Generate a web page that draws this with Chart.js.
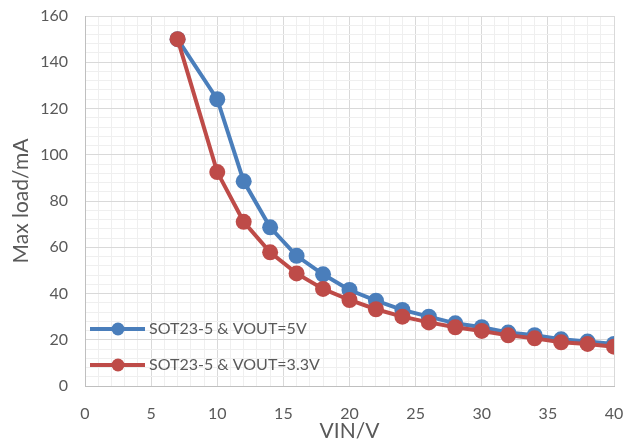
<!DOCTYPE html>
<html>
<head>
<meta charset="utf-8">
<script src="https://cdn.jsdelivr.net/npm/chart.js@4"></script>
<style>
  body { margin: 0; background: #fff; }
  #wrap { width: 628px; height: 445px; position: relative; }
</style>
</head>
<body>
<div id="wrap"><canvas id="myChart"></canvas></div>
<script>
// VIN/V values on the x axis
const vin = [7, 10, 12, 14, 16, 18, 20, 22, 24, 26, 28, 30, 32, 34, 36, 38, 40];
// max load in mA
const load5v = [150, 124, 88.5, 68.6, 56.3, 48.3, 41.5, 36.9, 32.9, 30, 27.1, 25.4, 23.1, 22, 20.2, 19.2, 18.2];
const load33v = [150, 92.5, 71, 57.8, 48.7, 42, 37.2, 33.2, 30, 27.5, 25.4, 23.8, 21.9, 20.6, 18.9, 18.2, 17];
const seriesNames = ['SOT23-5 & VOUT=5V', 'SOT23-5 & VOUT=3.3V'];

const blue = '#4a7ebb';
const red = '#be4b48';
const textColor = '#595959';
const fontName = 'Lato, "Liberation Sans", sans-serif';

function toPoints(ys) {
  return vin.map((x, i) => ({ x: x, y: ys[i] }));
}

// legend drawn inside the plot, lower left, like the excel one
const innerLegend = {
  id: 'innerLegend',
  afterDatasetsDraw(chart) {
    const ctx = chart.ctx;
    const area = chart.chartArea;
    const rows = [area.bottom - 57, area.bottom - 21];
    ctx.save();
    chart.data.datasets.forEach((ds, i) => {
      const y = rows[i];
      const x0 = area.left + 5;
      ctx.strokeStyle = ds.borderColor;
      ctx.lineWidth = 4;
      ctx.beginPath();
      ctx.moveTo(x0, y);
      ctx.lineTo(x0 + 55, y);
      ctx.stroke();
      ctx.fillStyle = ds.borderColor;
      ctx.beginPath();
      ctx.arc(x0 + 28, y, 6.5, 0, Math.PI * 2);
      ctx.fill();
      ctx.fillStyle = textColor;
      ctx.font = '16px ' + fontName;
      ctx.textBaseline = 'middle';
      ctx.textAlign = 'left';
      ctx.fillText(ds.label, x0 + 59, y);
    });
    ctx.restore();
  }
};

const config = {
  type: 'line',
  data: {
    datasets: [{
      label: seriesNames[0],
      data: toPoints(load5v),
      borderColor: blue,
      backgroundColor: blue,
      borderWidth: 4,
      pointRadius: 8,
      pointBorderWidth: 0,
      order: 1
    }, {
      label: seriesNames[1],
      data: toPoints(load33v),
      borderColor: red,
      backgroundColor: red,
      borderWidth: 4,
      pointRadius: 8,
      pointBorderWidth: 0,
      order: 0
    }]
  },
  options: {
    responsive: true,
    maintainAspectRatio: false,
    animation: false,
    layout: { padding: { left: 0, right: 14, top: 16, bottom: 0 } },
    plugins: {
      legend: { display: false },
      tooltip: { enabled: false }
    },
    scales: {
      x: {
        type: 'linear',
        min: 0,
        max: 40,
        afterFit: s => { s.height = 59; },
        ticks: {
          stepSize: 1,
          maxTicksLimit: 100,
          autoSkip: false,
          maxRotation: 0,
          padding: 0,
          color: textColor,
          font: { family: fontName, size: 16 },
          callback: v => (v % 5 === 0 ? v : '')
        },
        grid: {
          tickLength: 18,
          tickColor: 'rgba(0,0,0,0)',
          color: c => (c.tick && c.tick.value % 5 === 0 ? '#d9d9d9' : '#efefef')
        },
        border: { color: '#bfbfbf' },
        title: {
          display: true,
          text: 'VIN/V',
          color: textColor,
          font: { family: fontName, size: 21 },
          padding: { top: 0, bottom: 1 }
        }
      },
      y: {
        min: 0,
        max: 160,
        afterFit: s => { s.width = 85; },
        ticks: {
          stepSize: 4,
          maxTicksLimit: 100,
          autoSkip: false,
          padding: 0,
          color: textColor,
          font: { family: fontName, size: 16 },
          callback: v => (v % 20 === 0 ? v : '')
        },
        grid: {
          tickLength: 17,
          tickColor: 'rgba(0,0,0,0)',
          color: c => (c.tick && c.tick.value % 20 === 0 ? '#d9d9d9' : '#efefef')
        },
        border: { color: '#bfbfbf' },
        title: {
          display: true,
          text: 'Max load/mA',
          color: textColor,
          font: { family: fontName, size: 21 },
          padding: { top: 9, bottom: 0 }
        }
      }
    }
  },
  plugins: [innerLegend]
};

new Chart(document.getElementById('myChart'), config);
</script>
</body>
</html>
